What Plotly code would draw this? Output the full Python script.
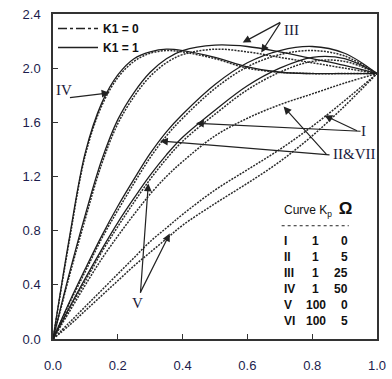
import plotly.graph_objects as go

# ---------------- data ----------------
eta = [0.0, 0.05, 0.1, 0.15, 0.2, 0.25, 0.3, 0.35, 0.4, 0.5, 0.6, 0.7, 0.8, 0.9, 1.0]

IV_k1 = [0.0, 0.74, 1.38, 1.74, 1.95, 2.07, 2.12, 2.14, 2.13, 2.08, 2.01, 1.97, 1.96, 1.96, 1.96]
IV_k0 = [0.0, 0.72, 1.36, 1.72, 1.93, 2.05, 2.11, 2.13, 2.12, 2.07, 2.00, 1.97, 1.96, 1.96, 1.96]

III_k1 = [0.0, 0.48, 0.92, 1.32, 1.62, 1.82, 1.97, 2.07, 2.13, 2.17, 2.16, 2.12, 2.07, 2.02, 1.96]
III_k0 = [0.0, 0.46, 0.89, 1.29, 1.59, 1.79, 1.94, 2.04, 2.10, 2.14, 2.12, 2.08, 2.04, 2.00, 1.96]

II_k1 = [0.0, 0.27, 0.52, 0.76, 0.98, 1.18, 1.37, 1.53, 1.66, 1.88, 2.04, 2.13, 2.16, 2.11, 1.96]
II_k0 = [0.0, 0.26, 0.50, 0.74, 0.95, 1.15, 1.34, 1.50, 1.63, 1.85, 2.01, 2.10, 2.13, 2.09, 1.96]

I_k1 = [0.0, 0.23, 0.45, 0.66, 0.86, 1.04, 1.21, 1.36, 1.49, 1.69, 1.87, 2.00, 2.08, 2.07, 1.96]
I_k0 = [0.0, 0.22, 0.43, 0.64, 0.83, 1.01, 1.18, 1.33, 1.46, 1.66, 1.84, 1.97, 2.05, 2.05, 1.96]

VII_k0 = [0.0, 0.20, 0.40, 0.59, 0.76, 0.92, 1.07, 1.20, 1.31, 1.50, 1.63, 1.73, 1.81, 1.89, 1.96]

V_k0 = [0.0, 0.12, 0.24, 0.36, 0.48, 0.60, 0.72, 0.82, 0.92, 1.10, 1.25, 1.40, 1.57, 1.76, 1.96]
VI_k0 = [0.0, 0.10, 0.21, 0.32, 0.43, 0.54, 0.64, 0.74, 0.84, 1.00, 1.15, 1.31, 1.50, 1.72, 1.96]

x_ticks = [0.0, 0.2, 0.4, 0.6, 0.8, 1.0]
y_ticks = [0.0, 0.4, 0.8, 1.2, 1.6, 2.0, 2.4]

table_curves = ["I", "II", "III", "IV", "V", "VI"]
table_kp = ["1", "1", "1", "1", "100", "100"]
table_omega = ["0", "5", "25", "50", "0", "5"]

# ---------------- layout geometry ----------------
W, H = 392, 379
L, R, T, B = 53, 6, 14, 35
PW, PH = W - L - R, H - T - B
XMAX, YMAX = 1.0, 2.4


def dx(px):
    return (px - L) / PW * XMAX


def dy(py):
    return (H - B - py) / PH * YMAX


SOLID = dict(color="#1e1e1e", width=1.3, shape="spline", smoothing=1.0)
DASH = dict(color="#2a2a2a", width=1.5, dash="2px,1.2px", shape="spline", smoothing=1.0)

fig = go.Figure()

# legend-only samples
fig.add_trace(go.Scatter(x=[None], y=[None], mode="lines", name="<b>K1 = 0</b>",
                         line=dict(color="#222", width=1.3, dash="dashdot")))
fig.add_trace(go.Scatter(x=[None], y=[None], mode="lines", name="<b>K1 = 1</b>",
                         line=dict(color="#222", width=1.3)))

for ys in [IV_k0, III_k0, II_k0, I_k0, VII_k0, V_k0, VI_k0]:
    fig.add_trace(go.Scatter(x=eta, y=ys, mode="lines", line=DASH, showlegend=False,
                             hoverinfo="skip"))
for ys in [IV_k1, III_k1, II_k1, I_k1]:
    fig.add_trace(go.Scatter(x=eta, y=ys, mode="lines", line=SOLID, showlegend=False,
                             hoverinfo="skip"))

axis_common = dict(showline=True, mirror=True, linecolor="#333", linewidth=1.5,
                   ticks="inside", ticklen=5, tickcolor="#333", showgrid=False,
                   zeroline=False, ticklabeloverflow="allow",
                   tickfont=dict(family="Liberation Sans Narrow, Liberation Sans, Arial",
                                 size=13, color="#1c1c4c"))

fig.update_layout(
    width=W, height=H,
    margin=dict(l=L, r=R, t=T, b=B, pad=0),
    plot_bgcolor="white", paper_bgcolor="white",
    showlegend=True,
    legend=dict(x=0.0, y=1.0, xanchor="left", yanchor="top", bgcolor="rgba(0,0,0,0)",
                font=dict(family="Liberation Sans, Arial", size=12, color="#111"),
                itemwidth=40, tracegroupgap=0),
    xaxis=dict(range=[0, XMAX], tickvals=x_ticks, ticktext=[f"{v:.1f}" for v in x_ticks],
               ticklabelstandoff=14, **axis_common),
    yaxis=dict(range=[0, YMAX], tickvals=y_ticks, ticktext=[f"{v:.1f}" for v in y_ticks],
               ticklabelstandoff=8, **axis_common),
)

ann = []
serif = dict(family="Liberation Serif, Times New Roman", size=15, color="#1a1a3a")


def label(text, px, py):
    ann.append(dict(x=dx(px), y=dy(py), xref="x", yref="y", text=text, showarrow=False,
                    font=serif, xanchor="center", yanchor="middle"))


def arrow(tx, ty, hx, hy):
    ann.append(dict(x=dx(hx), y=dy(hy), xref="x", yref="y", ax=tx - hx, ay=ty - hy,
                    axref="pixel", ayref="pixel", text="", showarrow=True,
                    arrowhead=2, arrowsize=1.3, arrowwidth=1.2, arrowcolor="#222"))


label("IV", 64, 91)
arrow(70, 99, 111, 94)
label("III", 298, 30)
arrow(287, 22, 248, 43)
arrow(287, 22, 267, 53)
label("I", 372, 133)
arrow(366, 133, 200, 125)
arrow(366, 133, 332, 117)
label("II&amp;VII", 362, 156)
arrow(334, 157, 163, 143)
arrow(334, 157, 290, 108)
label("V", 140, 307)
arrow(143, 297, 151, 186)
arrow(143, 297, 173, 237)

# axis titles
ann.append(dict(x=dx(167), y=dy(371), xref="x", yref="y", text="<b>η</b>", showarrow=False,
                yshift=0, font=dict(family="DejaVu Sans, Arial", size=15, color="#111"),
                yanchor="middle", xanchor="center"))
ann.append(dict(x=dx(223), y=dy(371), xref="x", yref="y", ax=-46, ay=0, axref="pixel",
                ayref="pixel", text="", showarrow=True, arrowhead=2, arrowsize=1.3,
                arrowwidth=1.3, arrowcolor="#111"))
ann.append(dict(x=dx(16), y=dy(240), xref="x", yref="y", text="R<sub>L</sub>",
                showarrow=False, textangle=-90,
                font=dict(family="Liberation Sans, Arial", size=14, color="#111"),
                xanchor="center", yanchor="middle"))
ann.append(dict(x=dx(21), y=dy(178), xref="x", yref="y", ax=0, ay=50, axref="pixel",
                ayref="pixel", text="", showarrow=True, arrowhead=2, arrowsize=1.3,
                arrowwidth=1.3, arrowcolor="#111"))

# table
tfont = dict(family="Liberation Sans Narrow, Liberation Sans, Arial", size=12, color="#111")
ann.append(dict(x=dx(288), y=dy(212), xref="x", yref="y",
                text="Curve K<sub>p</sub>  <b><span style='font-size:17px'>Ω</span></b>",
                showarrow=False, font=tfont, xanchor="left", yanchor="middle"))
row_y0, row_dy = 244, 16.4
for i, (c, k, o) in enumerate(zip(table_curves, table_kp, table_omega)):
    yy = dy(row_y0 + i * row_dy)
    ann.append(dict(x=dx(288), y=yy, xref="x", yref="y", text=f"<b>{c}</b>", showarrow=False,
                    font=tfont, xanchor="left", yanchor="middle"))
    ann.append(dict(x=dx(323), y=yy, xref="x", yref="y", text=f"<b>{k}</b>", showarrow=False,
                    font=tfont, xanchor="center", yanchor="middle"))
    ann.append(dict(x=dx(358), y=yy, xref="x", yref="y", text=f"<b>{o}</b>", showarrow=False,
                    font=tfont, xanchor="right", yanchor="middle"))

fig.update_layout(annotations=ann)
fig.add_shape(type="line", xref="x", yref="y", x0=dx(288), x1=dx(357), y0=dy(229), y1=dy(229),
              line=dict(color="#222", width=1, dash="dot"))

fig.write_html("out.html",
               config={"displayModeBar": False},
               post_script="document.body.style.margin='0';"
                           "document.body.style.overflow='hidden';")
